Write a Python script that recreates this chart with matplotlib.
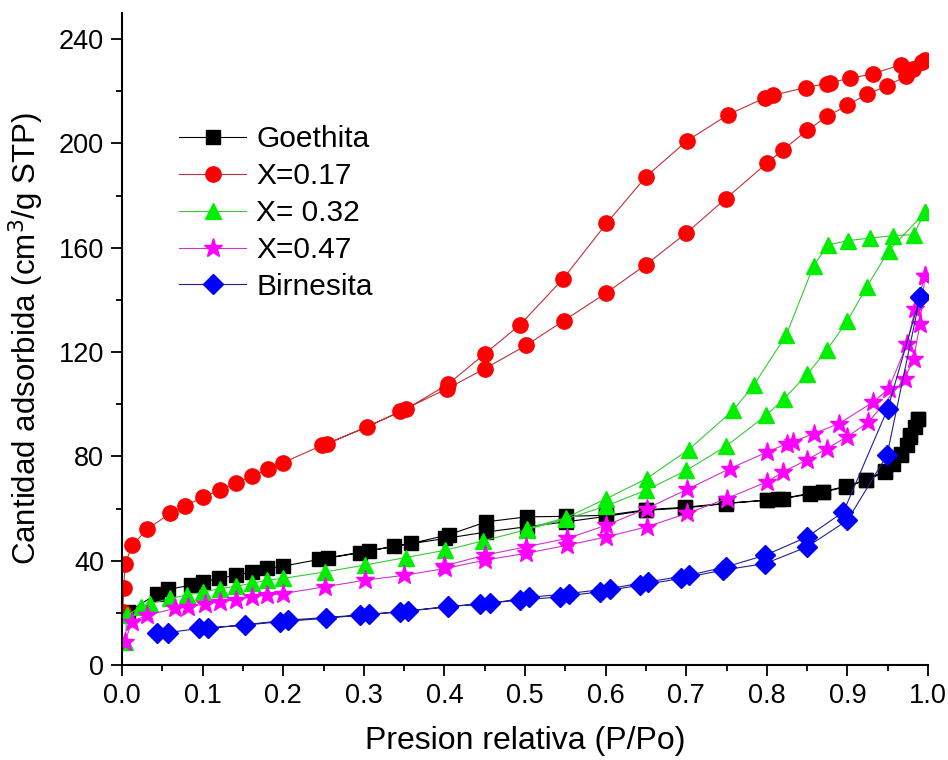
import matplotlib
matplotlib.use("Agg")
import matplotlib.pyplot as plt
from matplotlib.ticker import MultipleLocator
import numpy as np

plt.rcParams['font.family'] = ['Liberation Sans', 'DejaVu Sans']

# Goethita
goe_ads_x = [0.008,0.043,0.057,0.086,0.1,0.12,0.141,0.161,0.18,0.2,0.245,0.295,0.337,0.401,0.452,0.502,0.551,0.601,0.65,0.699,0.749,0.8,0.82,0.853,0.87,0.898,0.923,0.947,0.957,0.967,0.974,0.978,0.984,0.988]
goe_ads_y = [20.4,27.2,29,30.6,31.9,33.2,34.4,35.7,37,37.9,40.5,43,45.5,48.5,51,53,54.9,57,59.3,60.2,61.9,63.2,63.8,65.5,66.3,68.3,70.8,74,77.2,80.4,84.2,87.4,91.2,94.4]
goe_des_x = [0.988,0.978,0.967,0.947,0.923,0.898,0.87,0.853,0.814,0.8,0.749,0.699,0.65,0.601,0.551,0.502,0.452,0.406,0.359,0.306,0.256]
goe_des_y = [94.4,88,81,74.5,71,68.5,66.5,65.8,63.5,63.2,62,60.5,59.5,57.4,57,56.8,54.9,50,46.6,43.8,41.1]

# X=0.17
r17_ads_x = [0.001,0.002,0.004,0.013,0.031,0.06,0.078,0.1,0.121,0.141,0.161,0.181,0.2,0.248,0.304,0.345,0.403,0.45,0.501,0.548,0.6,0.65,0.7,0.749,0.8,0.82,0.85,0.875,0.9,0.924,0.949,0.973,0.981,0.992]
r17_ads_y = [20.4,29.4,38.9,46,52,58.2,60.9,64.3,67,69.6,72.5,75,77.6,84.2,91.2,97.2,105.9,113.6,122.5,132,142.5,153.5,165.6,178.8,192.4,197.5,205,210.3,214.7,218.8,222,225.8,228.4,231]
r17_des_x = [0.996,0.967,0.932,0.903,0.878,0.874,0.848,0.807,0.798,0.752,0.701,0.65,0.601,0.547,0.494,0.45,0.405,0.352,0.254]
r17_des_y = [232,230.2,226.7,224.9,223.3,222.9,221.4,218.4,217.5,211,201,187.2,169.3,148,130.5,119.3,107.8,98,84.6]

# X=0.32
g32_ads_x = [0.004,0.006,0.023,0.035,0.059,0.081,0.101,0.122,0.141,0.161,0.18,0.2,0.252,0.301,0.352,0.401,0.448,0.502,0.551,0.6,0.65,0.70,0.749,0.799,0.821,0.85,0.874,0.9,0.924,0.951,0.996]
g32_ads_y = [9,19,22.3,23.4,25.5,26.8,28,29.3,30.2,31.3,32.5,33.2,35.7,38.3,41.2,44,47.6,51.9,56,60.9,67,74.6,83.8,95.7,102,111.4,120.6,132,145,158.8,173.5]
g32_des_x = [0.996,0.982,0.957,0.928,0.901,0.876,0.858,0.824,0.784,0.758,0.703,0.651,0.601,0.551,0.502]
g32_des_y = [173.5,165,164.6,163.7,162.7,161.1,153.1,126.5,107.4,97.6,82.6,71.5,63.8,56.5,52.3]

# X=0.47
m47_ads_x = [0.004,0.012,0.031,0.066,0.082,0.103,0.122,0.142,0.161,0.18,0.2,0.252,0.301,0.35,0.401,0.45,0.501,0.552,0.601,0.651,0.701,0.75,0.8,0.82,0.85,0.874,0.9,0.926,0.971,0.982,0.99,0.996]
m47_ads_y = [9,16.6,19.1,21.7,22.3,23.4,24.2,25.1,26.1,26.8,27.4,30,32.5,34.4,37,40.2,42.8,45.9,49.1,53,58.1,63.8,70.2,74,78.7,82.9,87.6,93.1,109.7,117.4,130.8,149]
m47_des_x = [0.996,0.984,0.974,0.951,0.932,0.889,0.858,0.832,0.825,0.8,0.754,0.701,0.651,0.601,0.552,0.501,0.45,0.40]
m47_des_y = [149,136.5,123.1,105.9,100.8,92.5,88.7,85.5,84.9,81.6,75.3,67.3,60,53.6,48.5,45.3,42.1,38]

# Birnesita
bir_ads_x = [0.043,0.057,0.095,0.153,0.196,0.253,0.295,0.345,0.405,0.444,0.494,0.543,0.593,0.643,0.694,0.746,0.798,0.85,0.9,0.949,0.99]
bir_ads_y = [12.1,12.4,14,15.3,16.6,17.9,19.1,20.4,22.3,23.4,24.9,26.1,28.1,30.6,33.2,36.4,38.9,45.3,55.5,80.4,141]
bir_des_x = [0.99,0.95,0.895,0.85,0.798,0.749,0.703,0.653,0.605,0.554,0.505,0.456,0.405,0.355,0.306,0.206,0.107]
bir_des_y = [141,98.3,58.7,49.1,42.1,37.6,34.4,31.9,29.3,27.4,25.9,23.6,22.5,20.7,19.4,17.2,14]

labels = ['Goethita', 'X=0.17', 'X= 0.32', 'X=0.47', 'Birnesita']

series = [
    (goe_ads_x + goe_des_x, goe_ads_y + goe_des_y, 's', 9.5, '#000000', '#000000'),
    (r17_ads_x + r17_des_x, r17_ads_y + r17_des_y, 'o', 11, '#ff0000', '#c0303a'),
    (g32_ads_x + g32_des_x, g32_ads_y + g32_des_y, '^', 12, '#00ee00', '#33cc33'),
    (m47_ads_x + m47_des_x, m47_ads_y + m47_des_y, '*', 14, '#ff00ff', '#cc33cc'),
    (bir_ads_x + bir_des_x, bir_ads_y + bir_des_y, 'D', 10, '#0000ff', '#202090'),
]

fig = plt.figure(figsize=(9.48, 7.6), dpi=100)
ax = fig.add_axes([0.1287, 0.125, 0.8503, 0.858])

for (x, y, m, ms, mc, lc), lab in zip(series, labels):
    ax.plot(x, y, color=lc, lw=0.8, marker=m, markersize=ms,
            markerfacecolor=mc, markeredgecolor=mc, label=lab)

ax.set_xlim(0, 1.0)
ax.set_ylim(0, 250)
ax.xaxis.set_minor_locator(MultipleLocator(0.05))
ax.yaxis.set_major_locator(MultipleLocator(40))
ax.yaxis.set_minor_locator(MultipleLocator(20))
xt = np.round(np.arange(0, 1.01, 0.1), 1)
ax.set_xticks(xt)
ax.set_xticklabels([f"{v:.1f}" for v in xt])

for s in ['top', 'right']:
    ax.spines[s].set_visible(False)
for s in ['left', 'bottom']:
    ax.spines[s].set_linewidth(1.5)

ax.tick_params(which='major', direction='out', length=8, width=1.3, labelsize=19.5, pad=5)
ax.tick_params(which='minor', direction='out', length=4.5, width=1.3)

ax.set_xlabel('Presion relativa (P/Po)', fontsize=23, labelpad=12)
ax.set_ylabel('Cantidad adsorbida (cm$^3$/g STP)', fontsize=22.5, labelpad=9)

leg = ax.legend(loc='upper left', bbox_to_anchor=(0.045, 0.86), frameon=False,
                fontsize=21.5, handlelength=2.25, handletextpad=0.33, labelspacing=0.3,
                borderpad=0.2)

fig.savefig('out.png', dpi=100)
